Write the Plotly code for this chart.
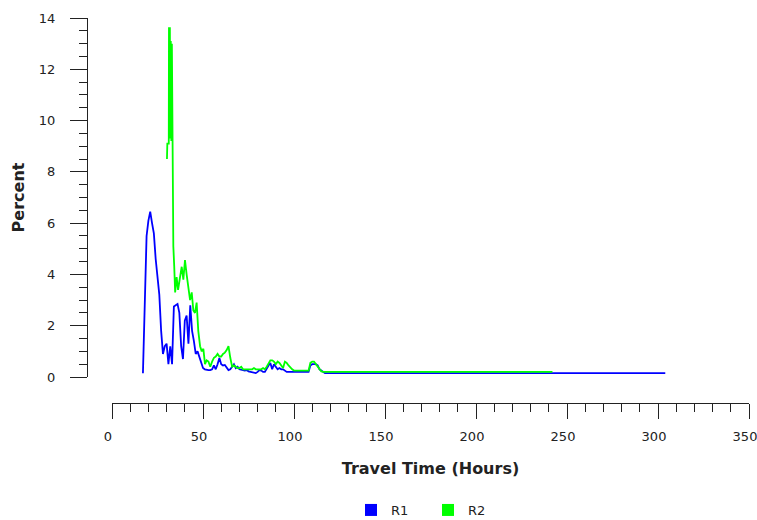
import plotly.graph_objects as go

# ---- data ----
r1_hours = [17, 18, 19, 20, 21, 22, 23, 24, 25, 26, 27, 28, 29, 30, 31, 32, 33, 34, 35, 36,
            37, 38, 39, 40, 41, 42, 43, 44, 45, 46, 47, 48, 49, 50, 51, 52, 53, 54, 55, 56,
            57, 58, 59, 60, 61, 62, 63, 64, 65, 66, 67, 68, 69, 70, 71, 72, 73, 74, 75, 76,
            77, 78, 79, 80, 81, 82, 83, 84, 85, 86, 87, 88, 89, 90, 91, 92, 93, 94, 95, 96,
            97, 98, 99, 100, 101, 102, 103, 104, 105, 106, 107, 108, 109, 110, 111, 112, 113,
            114, 115, 116, 117, 304]
r1_percent = [0.15, 3.5, 5.5, 6.1, 6.45, 6.0, 5.6, 4.6, 3.8, 3.2, 1.8, 0.9, 1.2, 1.3, 0.5, 1.2,
              0.5, 2.75, 2.8, 2.85, 2.5, 1.2, 0.7, 2.2, 2.4, 1.3, 2.8, 1.8, 1.4, 0.9, 1.0, 0.8,
              0.6, 0.35, 0.3, 0.27, 0.27, 0.27, 0.3, 0.45, 0.3, 0.5, 0.74, 0.5, 0.45, 0.47, 0.35,
              0.27, 0.3, 0.4, 0.5, 0.35, 0.4, 0.3, 0.27, 0.27, 0.25, 0.27, 0.22, 0.2, 0.2, 0.15,
              0.15, 0.2, 0.27, 0.25, 0.2, 0.2, 0.35, 0.45, 0.55, 0.3, 0.5, 0.4, 0.3, 0.35, 0.3,
              0.3, 0.25, 0.2, 0.2, 0.2, 0.2, 0.2, 0.2, 0.2, 0.2, 0.2, 0.2, 0.2, 0.2, 0.2, 0.45,
              0.5, 0.5, 0.5, 0.45, 0.3, 0.25, 0.2, 0.15, 0.15]

r2_hours = [30.2, 30.4, 31.2, 31.3, 31.8, 32.0, 32.3, 32.6, 32.9, 33.2, 33.7, 34.2, 34.7, 35.5,
            36.3, 37.4, 38.3, 39.2, 40.1, 41.0, 41.9, 42.9, 43.8, 44.7, 45.6, 46.5, 47.4, 48.4,
            49.3, 50.2, 51.1, 52, 53, 54, 55, 56, 57, 58, 59, 60, 61, 62, 63, 64, 65, 66, 67,
            68, 69, 70, 71, 72, 73, 74, 75, 76, 77, 78, 79, 80, 81, 82, 83, 84, 85, 86, 87, 88,
            89, 90, 91, 92, 93, 94, 95, 96, 97, 98, 99, 100, 101, 102, 103, 104, 105, 106, 107,
            108, 109, 110, 111, 112, 113, 114, 115, 116, 117, 242]
r2_percent = [8.5, 9.1, 9.1, 13.6, 13.6, 9.3, 13.1, 9.2, 13.0, 8.0, 5.1, 4.3, 3.3, 3.9, 3.4, 3.9,
              4.3, 3.8, 4.56, 4.0, 3.4, 3.0, 3.3, 2.6, 2.5, 2.9, 1.8, 1.2, 1.0, 1.1, 0.5, 0.65,
              0.6, 0.4, 0.6, 0.75, 0.8, 0.9, 0.8, 0.8, 0.9, 0.95, 1.05, 1.2, 0.75, 0.4, 0.45,
              0.4, 0.35, 0.35, 0.4, 0.3, 0.3, 0.3, 0.3, 0.3, 0.3, 0.35, 0.3, 0.3, 0.3, 0.3, 0.35,
              0.3, 0.4, 0.55, 0.65, 0.65, 0.6, 0.5, 0.6, 0.55, 0.45, 0.35, 0.6, 0.55, 0.45, 0.35,
              0.3, 0.25, 0.25, 0.25, 0.25, 0.25, 0.25, 0.25, 0.25, 0.25, 0.55, 0.6, 0.6, 0.5,
              0.4, 0.3, 0.22, 0.2, 0.2, 0.2]

series_names = ["R1", "R2"]
series_colors = ["#0000ff", "#00ff00"]

W, H = 757, 520
FONT = "DejaVu Sans"
AX = "#222222"

fig = go.Figure()
for name, xs, ys, col in [(series_names[0], r1_hours, r1_percent, series_colors[0]),
                          (series_names[1], r2_hours, r2_percent, series_colors[1])]:
    fig.add_trace(go.Scatter(x=xs, y=ys, mode="lines", line=dict(color=col, width=1.8),
                             showlegend=False, hoverinfo="skip"))
    fig.add_trace(go.Scatter(x=[None], y=[None], mode="markers", name=name,
                             marker=dict(symbol="square", size=12, color=col)))

fig.update_layout(
    template="none",
    width=W, height=H,
    margin=dict(l=0, r=0, t=0, b=0, autoexpand=False),
    paper_bgcolor="white", plot_bgcolor="white",
    font=dict(family=FONT, size=13, color="#222222"),
    xaxis=dict(
        domain=[112 / W, 749 / W], range=[0, 350.001], anchor="free", position=1 - 403 / H,
        automargin=False,
        showline=True, linecolor=AX, linewidth=1, showgrid=False, zeroline=False,
        ticks="outside", ticklen=15, tickcolor=AX, tickwidth=1, dtick=50, tick0=0,
        minor=dict(ticks="outside", ticklen=8, dtick=10, tickcolor=AX, tickwidth=1, showgrid=False),
        ticklabelstandoff=6, ticklabelshift=-4, ticklabeloverflow="allow",
        title=dict(text="<b>Travel Time (Hours)</b>", font=dict(size=16), standoff=20),
    ),
    yaxis=dict(
        domain=[1 - 377 / H, 1 - 18 / H], range=[0, 14], anchor="free", position=87 / W,
        automargin=False,
        showline=True, linecolor=AX, linewidth=1, showgrid=False, zeroline=False,
        ticks="outside", ticklen=17, tickcolor=AX, tickwidth=1, dtick=2, tick0=0,
        minor=dict(ticks="outside", ticklen=8, dtick=0.5, tickcolor=AX, tickwidth=1, showgrid=False),
        ticklabelstandoff=12, ticklabeloverflow="allow",
        title=dict(text="<b>Percent</b>", font=dict(size=16), standoff=9),
    ),
    legend=dict(orientation="h", x=351 / W, xanchor="left", y=1 - 510 / H, yanchor="middle",
                entrywidth=32, font=dict(size=13, color="#222222"), bgcolor="rgba(0,0,0,0)",
                borderwidth=0),
)

fig.write_html("out.html", config={"displayModeBar": False},
               post_script="document.body.style.margin='0';")
